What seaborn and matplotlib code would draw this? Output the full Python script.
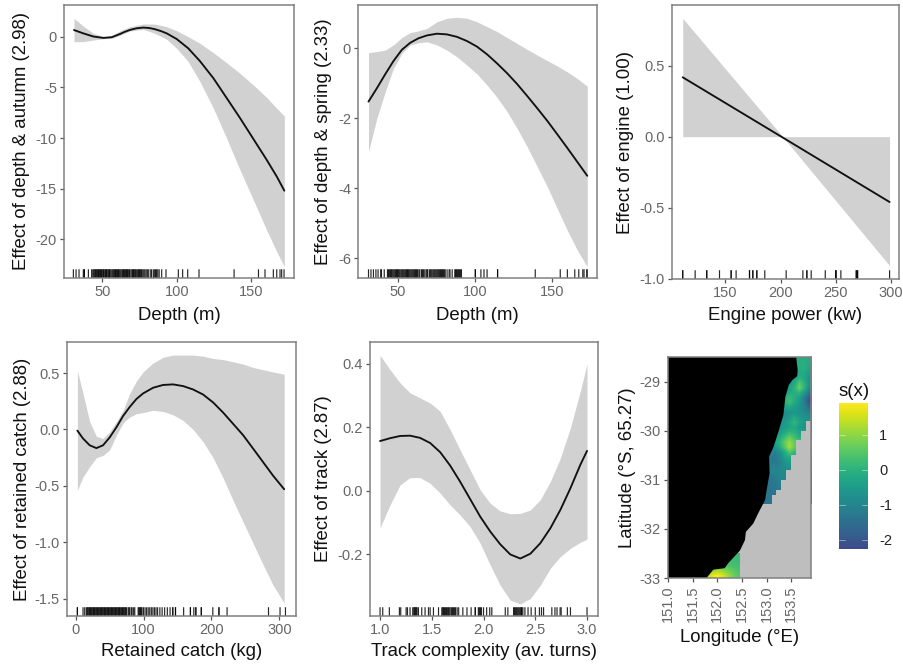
import numpy as np
import matplotlib
matplotlib.use("Agg")
import matplotlib.pyplot as plt
from matplotlib.colors import LinearSegmentedColormap, ListedColormap
import seaborn as sns

N = np.nan
sns.set_theme(style="ticks")
plt.rcParams['font.family'] = ['Liberation Sans', 'DejaVu Sans']
plt.rcParams['axes.unicode_minus'] = False

# ---------- panel 1 ----------
d1_lx = [30.9,37.2,43.9,50.7,56.3,61.9,65,68.6,73,77.6,81.5,85.4,89.5,93.3,100,107.8,115.7,124.7,133.6,142.6,151.6,160.5,167.3,172.4]
d1_y = [.66,.33,.02,-.12,-.05,.27,.48,.67,.83,.90,.86,.74,.55,.33,-.23,-1.15,-2.42,-4.1,-6.05,-8.03,-10.1,-12.15,-13.8,-15.2]
d1_x = [30.9,37.2,43.9,50.7,56.3,61.9,68.6,77.6,85.4,93.3,100,107.8,115.7,124.7,133.6,142.6,151.6,160.5,167.3,172.4]
d1_hi = [1.81,1.05,0.33,0.03,0.10,0.59,0.99,1.25,1.25,0.99,0.59,0,-0.66,-1.58,-2.57,-3.62,-4.77,-5.99,-7.07,-7.83]
d1_lo = [-0.49,-0.49,-0.33,-0.2,-0.16,0.13,0.56,0.72,0.33,-0.26,-1.15,-2.47,-4.44,-7.07,-10.03,-13.16,-16.12,-19.08,-21.22,-22.7]
d1_rug = [30.5,32.3,34.3,37.2,37.9,37.9,40.6,42.8,43.6,44.2,44.9,45.3,45.9,46.4,46.9,47.4,47.8,48.3,48.8,49.3,49.7,50.3,50.8,51.2,51.9,
          52.3,52.8,53.2,53.9,54.4,54.8,55.2,55.9,56.6,57.2,57.7,58.3,58.8,59.2,59.7,60.2,60.9,61.3,61.9,62.5,63.2,63.7,64.2,64.8,65.3,
          65.8,66.2,66.9,67.3,67.9,68.3,69.2,69.9,70.4,70.9,71.4,71.9,72.4,73.1,73.8,74.3,74.9,75.4,75.9,76.4,77.2,77.9,78.6,79.4,80.2,
          80.9,82.2,83.1,84.3,85.2,85.8,86.5,87.3,88.2,89.9,92.8,101.1,104,107.4,115,138.6,155,159.4,165,167.3,169.5,170.6,172.2]

# ---------- panel 2 ----------
d2_x = [31,36.4,41.8,47.2,52.6,58,63.4,68.8,75.3,81.8,88.3,94.8,101.3,107.8,114.3,120.8,127.3,133.8,140.3,146.8,153.2,159.7,166.2,172.7]
d2_y = [-1.53,-1.15,-.75,-.37,-.05,.15,.28,.36,.41,.39,.32,.20,.04,-.18,-.44,-.72,-1.03,-1.37,-1.72,-2.08,-2.46,-2.85,-3.25,-3.65]
d2_hi = [-0.13,-0.10,-0.06,0.09,0.30,0.44,0.49,0.56,0.75,0.85,0.88,0.85,0.75,0.61,0.47,0.30,0.13,-0.04,-0.2,-0.36,-0.51,-0.68,-0.87,-1.09]
d2_lo = [-2.96,-2.01,-1.25,-0.58,-0.15,0.09,0.15,0.18,0.09,-0.06,-0.25,-0.49,-0.74,-1.06,-1.41,-1.82,-2.3,-2.82,-3.39,-3.96,-4.58,-5.2,-5.77,-6.25]
d2_rug = [31,32.6,34.2,35.8,37.2,38.9,39.4,41.2,43.3,43.9,44.5,45.2,45.8,46.3,46.9,47.5,48.1,48.6,49.2,49.8,50.3,50.9,51.5,52.2,52.8,53.3,53.9,54.5,
          55.1,55.7,56.2,56.8,57.3,57.9,58.5,59.1,59.7,60.3,60.9,61.5,62.1,62.7,63.6,64.2,65.3,65.9,66.5,67.1,68.2,68.8,69.3,70.4,71,71.6,72.2,
          72.9,73.5,74.1,74.7,75.3,75.9,76.5,77.1,77.7,78.3,78.9,79.5,80.1,80.7,81.9,83.2,83.8,85.2,86.9,87.4,88,88.6,89.3,89.9,90.6,91.2,
          100.2,100.2,103.8,105.8,107.8,114.6,114.6,139,155.2,159.8,164.6,167.2,169.8,170.6,172.5,172.5]

# ---------- panel 3 ----------
e_x = [111.7,202,298.5]
e_y = [0.418,-0.006,-0.46]
e_hi = [0.833,0,0]
e_lo = [0,0,-0.908]
e_rug = [111.7,111.7,122.9,133.4,133.4,144.9,155.4,155.4,159.9,172,172,175,175,178.6,178.6,185.8,205.1,220.2,223.8,223.8,227.7,
         240.4,250,250,250,254.5,268.4,268.4,269.6,269.6,298.5]

# ---------- panel 4 ----------
c_x = [2.5,10.8,20.6,30.5,40.3,50.1,60,69.8,79.6,89.4,99.3,113.9,128.7,143.4,158.2,172.9,187.7,202.4,217.2,231.9,246.6,261.4,276.1,290.8,307.1]
c_y = [-0.01,-0.08,-0.14,-0.165,-0.14,-0.07,0.02,0.12,0.20,0.27,0.32,0.37,0.395,0.40,0.385,0.355,0.31,0.24,0.15,0.05,-0.05,-0.17,-0.29,-0.41,-0.53]
c_hi = [0.52,0.32,0.07,-0.06,-0.08,-0.02,0.07,0.17,0.32,0.43,0.51,0.59,0.64,0.66,0.66,0.66,0.65,0.63,0.62,0.60,0.58,0.55,0.53,0.51,0.49]
c_lo = [-0.54,-0.42,-0.33,-0.25,-0.23,-0.18,-0.05,0.06,0.11,0.14,0.15,0.17,0.16,0.13,0.08,0,-0.11,-0.25,-0.43,-0.63,-0.82,-1.01,-1.20,-1.38,-1.54]
c_rug = [2.5,2.5,10.8,13.3,15.7,17,18,19.3,20.4,21.8,23,24.1,25.3,26.4,27.6,28.7,29.9,31,32.2,33.3,34.5,35.6,36.8,37.9,39.1,40.2,41.4,42.5,43.7,
         44.8,46,47.1,48.3,49.4,50.6,51.7,52.9,54,55.2,56.3,57.5,58.6,59.8,60.9,62.1,63.2,64.4,65.5,66.7,67.8,69,70.1,71.3,72.4,73.6,74.8,77.2,78.4,79.6,81.9,
         83.1,85.4,87,92,93.1,94.3,95.4,96.6,97.7,99.9,102.2,104.5,106.8,109.1,111.4,113.7,116,118.3,120.6,124,127.3,131,135,139,143,143,147,147,159,169,169,174,177,177,
         185,185,202,211,211,223,284,301,309]

# ---------- panel 5 ----------
t_x = [1.0,1.097,1.194,1.29,1.387,1.484,1.581,1.677,1.774,1.871,1.968,2.065,2.161,2.258,2.355,2.452,2.548,2.645,2.742,2.839,2.935,3.0]
t_y = [0.157,0.166,0.173,0.174,0.167,0.151,0.122,0.08,0.029,-0.026,-0.081,-0.128,-0.168,-0.200,-0.213,-0.198,-0.165,-0.118,-0.06,0.008,0.082,0.126]
t_hi = [.427,.382,.34,.309,.293,.277,.251,.193,.129,.066,.003,-.039,-.063,-.072,-.071,-.06,-.028,.029,.103,.198,.314,.4]
t_lo = [-.116,-.044,.019,.042,.042,.024,-.007,-.044,-.076,-.113,-.165,-.234,-.297,-.344,-.356,-.339,-.297,-.244,-.207,-.181,-.162,-.152]
t_rug = [1.0,1.026,1.09,1.187,1.2,1.252,1.265,1.29,1.316,1.329,1.329,1.339,1.348,1.348,1.358,1.371,1.403,1.435,1.468,1.484,1.516,1.565,
         1.597,1.606,1.613,1.622,1.632,1.642,1.65,1.66,1.668,1.677,1.69,1.70,1.71,1.72,1.73,1.745,1.76,1.80,1.84,1.88,1.92,1.92,1.95,1.96,1.97,1.98,
         2.0,2.03,2.06,2.08,2.21,2.235,2.29,2.3,2.31,2.32,2.33,2.34,2.35,2.36,2.365,2.37,2.38,2.40,2.43,2.46,2.5,2.54,2.56,2.58,2.66,2.69,2.71,2.74,2.75,2.81,2.84,3.0]

# ---------- map ----------
coast_lon = [153.6,153.63,153.62,153.53,153.45,153.38,153.34,153.24,153.14,153.05,153.06,153.0,152.97,152.83,152.73,152.58,152.56,152.46,152.22,152.15,151.92,151.78]
coast_lat = [-28.5,-28.77,-28.89,-28.96,-29.07,-29.31,-29.68,-30.02,-30.33,-30.53,-30.87,-31.21,-31.41,-31.68,-31.89,-32.06,-32.23,-32.44,-32.7,-32.8,-32.83,-33.0]

north_s = [
    [N,N,N,N,N,N,-.2,-.1,-.1,-.2],
    [N,N,N,N,N,N,-.2,-.1,-.1,-.2],
    [N,N,N,N,N,N,-.3,-.1,-.1,-.3],
    [N,N,N,N,N,N,-.4,-.2,-.2,-.5],
    [N,N,N,N,N,N,-.5,.0,-.3,-.7],
    [N,N,N,N,N,-.5,-.2,.5,.0,-.7],
    [N,N,N,N,-.5,-.4,.0,.7,.0,-.9],
    [N,N,N,N,-.4,-.2,-.1,.0,-.6,-1.4],
    [N,N,N,N,-.1,.2,-.1,-.4,-1.2,-2.0],
    [N,N,N,N,-.1,.2,-.2,-.6,-1.2,-2.0],
    [N,N,N,N,-.5,-.3,-.5,-.7,-1.0,-1.6],
    [N,N,N,N,-.8,-.7,-.6,-.7,-.9,-1.1],
    [N,N,N,-.9,-.8,-.5,-.2,-.5,-.7,-.8],
    [N,N,N,-.8,-.6,-.3,.1,-.3,-.6,N],
    [N,N,N,-.8,-.5,-.3,-.2,-.5,-.7,N],
    [N,N,-.7,-.5,-.2,.1,.0,-.3,N,N],
    [N,N,-.5,-.2,.2,.7,.3,-.1,N,N],
    [N,-.6,-.3,.0,.6,1.1,.6,N,N,N],
    [N,-.8,-.7,-.2,.5,1.2,.6,N,N,N],
    [N,-1.0,-1.1,-.8,-.2,.5,.1,N,N,N],
    [-1.1,-1.2,-1.3,-1.0,-.4,-.2,N,N,N,N],
    [-1.1,-1.2,-1.3,-1.1,-.7,-.5,N,N,N,N],
    [-1.1,-1.1,-1.1,-1.0,-.8,-.7,N,N,N,N],
    [-1.1,-1.0,-1.0,-.9,-.9,N,N,N,N,N],
    [-1.2,-1.3,-1.2,-1.0,-.9,N,N,N,N,N],
    [-1.2,-1.4,-1.3,-1.1,N,N,N,N,N,N],
    [-1.3,-1.4,-1.3,-1.2,N,N,N,N,N,N],
    [-1.3,-1.4,-1.3,N,N,N,N,N,N,N],
    [-1.3,-1.4,N,N,N,N,N,N,N,N],
    [-1.3,-1.4,N,N,N,N,N,N,N,N],
]
north_lon_edges = [152.9,153.0,153.1,153.2,153.3,153.4,153.5,153.6,153.7,153.8,153.9]
north_lat_edges = [-28.5,-28.6,-28.7,-28.8,-28.9,-29.0,-29.1,-29.2,-29.3,-29.4,-29.5,-29.6,-29.7,-29.8,-29.9,-30.0,
                   -30.1,-30.2,-30.3,-30.4,-30.5,-30.6,-30.7,-30.8,-30.9,-31.0,-31.1,-31.2,-31.3,-31.4,-31.5]
south_s = [
    [N,N,N,N,N,.2,.2],
    [N,N,N,N,.3,.3,.2],
    [N,N,N,.5,.4,.3,.3],
    [N,1.0,1.2,1.0,.8,.6,.4],
    [1.2,1.7,1.9,1.6,1.2,.8,.5],
]
south_lon_edges = [151.75,151.85,151.95,152.05,152.15,152.25,152.35,152.45]
south_lat_edges = [-32.5,-32.6,-32.7,-32.8,-32.9,-33.0]

FIG_W, FIG_H = 904, 665
GREY = "#808080"
TICK = "#666666"
BAND = "#D1D1D1"
SEA = "#BEBEBE"
fig = plt.figure(figsize=(FIG_W/100, FIG_H/100), dpi=100, facecolor="white")

def mk_ax(l, r, t, b):
    ax = fig.add_axes([l/FIG_W, 1-b/FIG_H, (r-l)/FIG_W, (b-t)/FIG_H])
    for s in ax.spines.values():
        s.set_visible(True); s.set_color(GREY); s.set_linewidth(1.1)
    ax.tick_params(colors=TICK, labelsize=10.5, length=2.6, width=0.9, pad=2.5, color="#555555")
    return ax

def labels(ax, xl, yl, ylx, xly, box):
    l, r, t, b = box
    ax.set_xlabel(xl, fontsize=13.4, color="#111111", va="center")
    ax.set_ylabel(yl, fontsize=13.4, color="#111111", va="center")
    ax.xaxis.set_label_coords(.5, -(xly-b)/(b-t))
    ax.yaxis.set_label_coords((ylx-l)/(r-l), .5)

def gam(box, x, y, hi, lo, rug, xlim, ylim, xt, yt, xl, yl, ylx, xly, xfmt=None, yfmt=None, lx=None):
    ax = mk_ax(*box)
    ax.fill_between(x, lo, hi, color=BAND, lw=0, zorder=1)
    sns.lineplot(x=(lx if lx else x), y=y, ax=ax, color="#111111", lw=1.35, estimator=None, sort=False, zorder=3)
    sns.rugplot(x=rug, ax=ax, height=0.032, color="black", alpha=0.85, linewidth=0.85, snap=False, zorder=2)
    ax.set_xlim(*xlim); ax.set_ylim(*ylim)
    ax.set_xticks(xt); ax.set_yticks(yt)
    if xfmt: ax.set_xticklabels([xfmt % v for v in xt])
    if yfmt: ax.set_yticklabels([yfmt % v for v in yt])
    labels(ax, xl, yl, ylx, xly, box)
    return ax

gam((64,294,5,278), d1_x, d1_y, d1_hi, d1_lo, d1_rug, (24.2,178.9), (-23.82,3.13), [50,100,150], [0,-5,-10,-15,-20],
    "Depth (m)", "Effect of depth & autumn (2.98)", 22, 315, lx=d1_lx)
gam((358,597,5,278), d2_x, d2_y, d2_hi, d2_lo, d2_rug, (24.2,179), (-6.57,1.23), [50,100,150], [0,-2,-4,-6],
    "Depth (m)", "Effect of depth & spring (2.33)", 324, 315)
gam((672,899,5,279), e_x, e_y, e_hi, e_lo, e_rug, (102,307), (-1.002,0.927), [150,200,250,300], [0.5,0,-0.5,-1],
    "Engine power (kw)", "Effect of engine (1.00)", 626, 315, yfmt="%.1f")
gam((67,296,342,616), c_x, c_y, c_hi, c_lo, c_rug, (-12.8,324.5), (-1.654,0.776), [0,100,200,300], [0.5,0,-0.5,-1,-1.5],
    "Retained catch (kg)", "Effect of retained catch (2.88)", 22, 652, yfmt="%.1f")
gam((370,598,342,616), t_x, t_y, t_hi, t_lo, t_rug, (.903,3.106), (-0.394,0.469), [1,1.5,2,2.5,3], [0.4,0.2,0,-0.2],
    "Track complexity (av. turns)", "Effect of track (2.87)", 324, 652, xfmt="%.1f", yfmt="%.1f")

# map
box = (668,811,357,578)
m = mk_ax(*box)
m.set_facecolor(SEA)
VMIN, VMAX = -2.26, 1.9
base = plt.get_cmap("viridis")
cmap = LinearSegmentedColormap.from_list("vir", base(np.linspace(0.22, 1, 128)))

def fill_row_ends(rows):
    # blank cells take the nearest value of their row, only so the smoothing has no holes;
    # they are painted over by the sea mask and the land polygon below
    out = np.array(rows, dtype=float)
    for row in out:
        ok = np.flatnonzero(~np.isnan(row))
        row[:ok[0]] = row[ok[0]]
        row[ok[-1]+1:] = row[ok[-1]]
    return out

def raster(rows, lon_e, lat_e):
    rows = np.array(rows, dtype=float)
    ext = (lon_e[0], lon_e[-1], lat_e[-1], lat_e[0])
    art = m.imshow(fill_row_ends(rows), cmap=cmap, vmin=VMIN, vmax=VMAX, extent=ext, origin="upper",
                   aspect="auto", interpolation="bilinear", zorder=1)
    blank = np.ma.masked_where(~np.isnan(rows), np.zeros(rows.shape))
    m.pcolormesh(lon_e, lat_e, blank, cmap=ListedColormap([SEA]), zorder=1.5, lw=0, antialiased=False)
    return art

im = raster(north_s, north_lon_edges, north_lat_edges)
raster(south_s, south_lon_edges, south_lat_edges)
m.set_xlim(151.0,153.9); m.set_ylim(-33,-28.5)
m.fill([151.0]+coast_lon+[151.0], [-28.5]+coast_lat+[-33], color="black", lw=0, zorder=2)
m.set_xticks([151,151.5,152,152.5,153,153.5])
m.set_xticklabels(["151.0","151.5","152.0","152.5","153.0","153.5"], rotation=90)
m.set_yticks([-29,-30,-31,-32,-33])
labels(m, "Longitude (°E)", "Latitude (°S, 65.27)", 627, 637, box)

# colorbar
cax = fig.add_axes([839/FIG_W, 1-549/FIG_H, 29/FIG_W, 146/FIG_H])
cb = fig.colorbar(im, cax=cax)
cb.set_ticks([1,0,-1,-2])
cb.outline.set_visible(False)
cax.tick_params(length=0, labelsize=10.5, labelcolor="#222222", pad=8)
for v in [1,0,-1,-2]:
    cax.axhline(v, 0, .2, color="white", lw=.5, alpha=.6)
    cax.axhline(v, .8, 1, color="white", lw=.5, alpha=.6)
fig.text(839/FIG_W, 1-392/FIG_H, "s(x)", fontsize=13.5, color="#111111", va="center", ha="left")

fig.savefig("out.png", dpi=100)
